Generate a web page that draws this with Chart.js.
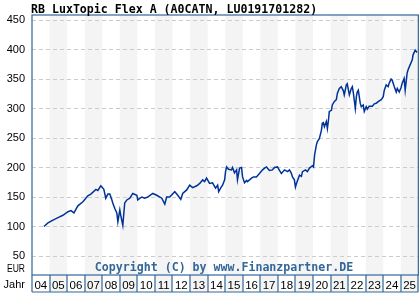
<!DOCTYPE html>
<html>
<head>
<meta charset="utf-8">
<script src="https://cdn.jsdelivr.net/npm/chart.js@4.4.0/dist/chart.umd.min.js"></script>
<style>
  html, body { margin: 0; padding: 0; background: #fff; }
  #wrap { width: 420px; height: 300px; }
</style>
</head>
<body>
<div id="wrap"><canvas id="chart" width="420" height="300"></canvas></div>
<script>
// time in decimal years, price in EUR
const years = [
  2004.68, 2004.91, 2005.14, 2005.48, 2005.76, 2006.05, 2006.22, 2006.39, 2006.61, 2006.90,
  2007.18, 2007.35, 2007.64, 2007.75, 2007.92, 2008.09, 2008.20, 2008.32, 2008.43, 2008.55,
  2008.60, 2008.72, 2008.83, 2008.89, 2009.00, 2009.06, 2009.17, 2009.28, 2009.40, 2009.57,
  2009.74, 2009.97, 2010.02, 2010.25, 2010.42, 2010.59, 2010.88, 2011.10, 2011.39, 2011.56,
  2011.67, 2011.84, 2012.13, 2012.30, 2012.47, 2012.58, 2012.81, 2012.98, 2013.15, 2013.38,
  2013.55, 2013.72, 2013.83, 2013.94, 2014.11, 2014.28, 2014.45, 2014.57, 2014.63, 2014.74,
  2014.85, 2014.97, 2015.02, 2015.08, 2015.19, 2015.36, 2015.42, 2015.53, 2015.65, 2015.70,
  2015.82, 2015.93, 2015.99, 2016.10, 2016.22, 2016.27, 2016.50, 2016.61, 2016.78, 2016.95,
  2017.13, 2017.24, 2017.35, 2017.52, 2017.69, 2017.81, 2017.98, 2018.09, 2018.20, 2018.38,
  2018.55, 2018.66, 2018.77, 2018.83, 2018.94, 2019.00, 2019.06, 2019.23, 2019.34, 2019.40,
  2019.57, 2019.68, 2019.80, 2019.97, 2020.03, 2020.09, 2020.19, 2020.25, 2020.36, 2020.48,
  2020.53, 2020.59, 2020.65, 2020.76, 2020.82, 2020.88, 2020.93, 2021.05, 2021.10, 2021.22,
  2021.33, 2021.39, 2021.50, 2021.61, 2021.73, 2021.78, 2021.90, 2021.95, 2022.07, 2022.18,
  2022.24, 2022.30, 2022.41, 2022.47, 2022.52, 2022.58, 2022.69, 2022.75, 2022.86, 2022.92,
  2023.03, 2023.09, 2023.20, 2023.38, 2023.49, 2023.60, 2023.77, 2023.89, 2024.00, 2024.06,
  2024.17, 2024.28, 2024.34, 2024.45, 2024.51, 2024.63, 2024.74, 2024.80, 2024.91, 2025.02,
  2025.08, 2025.19, 2025.25, 2025.36, 2025.42, 2025.53, 2025.65, 2025.70, 2025.82, 2025.93
];
const prices = [
  100, 106, 110, 115, 119, 125, 127, 123, 135, 142,
  152, 155, 163, 161, 169, 163, 148, 155, 155, 145,
  140, 130, 123, 108, 128, 118, 102, 140, 145, 148,
  156, 153, 145, 150, 148, 150, 156, 153, 148, 138,
  150, 150, 159, 153, 146, 156, 162, 170, 166, 169,
  173, 179, 176, 182, 173, 174, 165, 170, 159, 165,
  170, 179, 193, 201, 197, 196, 200, 191, 196, 179,
  199, 200, 184, 174, 178, 176, 182, 184, 184, 190,
  196, 199, 201, 195, 196, 200, 201, 195, 190, 196,
  193, 196, 190, 184, 179, 167, 173, 187, 185, 193,
  196, 193, 199, 203, 201, 221, 238, 244, 249, 263,
  275, 276, 269, 278, 266, 280, 295, 297, 306, 312,
  315, 326, 334, 337, 330, 323, 340, 342, 323, 334,
  337, 326, 300, 320, 328, 331, 309, 303, 306, 295,
  303, 299, 304, 304, 308, 309, 313, 315, 320, 331,
  340, 337, 343, 350, 348, 337, 328, 334, 328, 336,
  343, 351, 331, 360, 366, 374, 382, 391, 399, 395
];
const yTicks = [50, 100, 150, 200, 250, 300, 350, 400, 450];
const yearLabels = ['04','05','06','07','08','09','10','11','12','13','14','15','16','17','18','19','20','21','22','23','24','25'];

const title = 'RB LuxTopic Flex A (A0CATN, LU0191701282)';
const copyright = 'Copyright (C) by www.Finanzpartner.DE';
const frameColor = '#336699';
const bandColor = '#f4f4f4';

const decor = {
  id: 'decor',
  beforeDraw(chart) {
    const { ctx, chartArea: a, scales: { x } } = chart;
    ctx.save();
    ctx.fillStyle = '#fff';
    ctx.fillRect(0, 0, chart.width, chart.height);
    yearLabels.forEach((lab, i) => {
      if (i % 2 === 1) {
        const x0 = x.getPixelForValue(2004 + i);
        const x1 = x.getPixelForValue(2005 + i);
        ctx.fillStyle = bandColor;
        ctx.fillRect(x0, a.top, x1 - x0, a.bottom - a.top + 17);
      }
    });
    ctx.restore();
  },
  afterDraw(chart) {
    const { ctx, chartArea: a, scales: { x } } = chart;
    ctx.save();
    ctx.strokeStyle = frameColor;
    ctx.lineWidth = 1.2;
    ctx.strokeRect(a.left, a.top, a.right - a.left, a.bottom - a.top);
    // year boxes
    ctx.beginPath();
    for (let i = 0; i <= yearLabels.length; i++) {
      const px = Math.round(x.getPixelForValue(2004 + i));
      ctx.moveTo(px, a.bottom);
      ctx.lineTo(px, a.bottom + 17);
    }
    ctx.moveTo(a.left, a.bottom + 17);
    ctx.lineTo(a.right, a.bottom + 17);
    ctx.stroke();

    ctx.fillStyle = '#000';
    ctx.font = 'bold 11.6px "DejaVu Sans Mono"';
    ctx.textAlign = 'left';
    ctx.textBaseline = 'alphabetic';
    ctx.fillText(title, 31, 13);

    ctx.fillStyle = frameColor;
    ctx.textAlign = 'center';
    ctx.fillText(copyright, 224, 271);

    ctx.fillStyle = '#000';
    ctx.font = '11px "Liberation Sans"';
    ctx.textAlign = 'right';
    ctx.fillText('EUR', 25, 272, 18);
    ctx.fillText('Jahr', 25, 288, 23);
    ctx.restore();
  }
};

new Chart(document.getElementById('chart').getContext('2d'), {
  type: 'line',
  data: {
    datasets: [{
      data: years.map((t, i) => ({ x: t, y: prices[i] })),
      borderColor: '#003399',
      borderWidth: 1.5,
      pointRadius: 0,
      tension: 0,
      fill: false
    }]
  },
  options: {
    responsive: false,
    animation: false,
    events: [],
    layout: { autoPadding: false, padding: { top: 15, right: 1, bottom: 0, left: 0 } },
    plugins: { legend: { display: false }, title: { display: false }, tooltip: { enabled: false } },
    scales: {
      x: {
        type: 'linear',
        min: 2004,
        max: 2026,
        afterBuildTicks: (s) => { s.ticks = yearLabels.map((l, i) => ({ value: 2004.5 + i })); },
        afterFit: (s) => { s.height = 25; },
        grid: { display: false, drawTicks: false },
        border: { display: false },
        ticks: {
          autoSkip: false,
          maxRotation: 0,
          padding: 4,
          color: '#000',
          font: { family: 'Liberation Sans', size: 11.5 },
          callback: (v) => yearLabels[Math.floor(v) - 2004]
        }
      },
      y: {
        min: 17.8,
        max: 458.5,
        afterBuildTicks: (s) => { s.ticks = yTicks.map(v => ({ value: v })); },
        afterFit: (s) => { s.width = 32; },
        grid: { color: '#cccccc', lineWidth: 1, drawTicks: false },
        border: { display: false, dash: [4, 3] },
        ticks: {
          padding: 7,
          color: '#000',
          font: { family: 'Liberation Sans', size: 11 }
        }
      }
    }
  },
  plugins: [decor]
});
</script>
</body>
</html>
